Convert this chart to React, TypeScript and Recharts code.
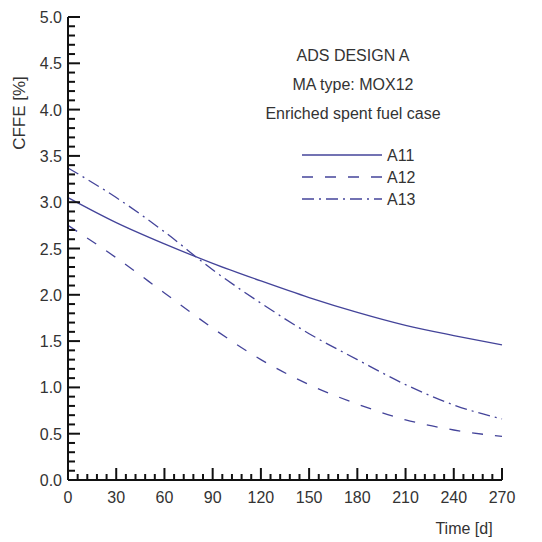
import { CartesianGrid, Customized, Line, LineChart, XAxis, YAxis } from 'recharts';

// time in days
const days = [0, 30, 60, 90, 120, 150, 180, 210, 240, 270];
const a11 = [3.05, 2.78, 2.55, 2.34, 2.15, 1.97, 1.81, 1.67, 1.56, 1.46];
const a12 = [2.75, 2.4, 2.02, 1.64, 1.3, 1.03, 0.82, 0.65, 0.54, 0.47];
const a13 = [3.37, 3.05, 2.68, 2.27, 1.91, 1.58, 1.3, 1.03, 0.81, 0.66];

const xMajor = [0, 30, 60, 90, 120, 150, 180, 210, 240, 270];
const yMajor = [0, 0.5, 1, 1.5, 2, 2.5, 3, 3.5, 4, 4.5, 5];

const notes = ['ADS DESIGN A', 'MA type: MOX12', 'Enriched spent fuel case'];
const legendItems = [
  { key: 'A11', dash: undefined },
  { key: 'A12', dash: '11 12' },
  { key: 'A13', dash: '12 5 2 5' },
];

const data = days.map((d, i) => ({ t: d, A11: a11[i], A12: a12[i], A13: a13[i] }));

// minor ticks: 5 steps between majors
const xTicks = xMajor.slice(0, -1).flatMap((v) => [0, 1, 2, 3, 4].map((k) => v + k * 6)).concat([270]);
const yTicks = yMajor.slice(0, -1).flatMap((v) => [0, 1, 2, 3, 4].map((k) => +(v + k * 0.1).toFixed(1))).concat([5]);

const LINE = '#44449a';
const TXT = '#333';
const FONT = '"Liberation Sans", Arial, sans-serif';

const isMajor = (v: number, step: number) => Math.abs(v / step - Math.round(v / step)) < 1e-6;

function XTick({ x, y, payload }: any) {
  const major = isMajor(payload.value, 30);
  return (
    <g>
      <line x1={x} x2={x} y1={y} y2={y - (major ? 12 : 6)} stroke="#111" strokeWidth={2} />
      {major && (
        <text x={x} y={y + 23} textAnchor="middle" fontSize={16} fill={TXT} fontFamily={FONT}>
          {payload.value}
        </text>
      )}
    </g>
  );
}

function YTick({ x, y, payload }: any) {
  const major = isMajor(payload.value, 0.5);
  return (
    <g>
      <line x1={x} x2={x + (major ? 12 : 7)} y1={y} y2={y} stroke="#111" strokeWidth={2} />
      {major && (
        <text x={x - 6} y={y + 6} textAnchor="end" fontSize={16} fill={TXT} fontFamily={FONT}>
          {payload.value.toFixed(1)}
        </text>
      )}
    </g>
  );
}

function Annotations() {
  return (
    <g fontFamily={FONT} fontSize={16} fill={TXT}>
      {notes.map((n, i) => (
        <text key={n} x={353} y={61 + i * 29} textAnchor="middle">
          {n}
        </text>
      ))}
      {legendItems.map((it, i) => (
        <g key={it.key}>
          <line x1={302} x2={382} y1={155 + i * 22} y2={155 + i * 22} stroke={LINE} strokeWidth={1.3} strokeDasharray={it.dash} />
          <text x={387} y={161 + i * 22}>{it.key}</text>
        </g>
      ))}
      <text x={0} y={0} transform="translate(25,113) rotate(-90)" textAnchor="middle" fontSize={17}>
        CFFE [%]
      </text>
      <text x={464} y={534} textAnchor="middle">
        Time [d]
      </text>
    </g>
  );
}

export default function App() {
  return (
    <div style={{ position: 'absolute', left: 0, top: 0, width: 542, height: 542, background: '#fff' }}>
      <LineChart width={542} height={542} data={data} margin={{ top: 17, right: 40, left: 0, bottom: 0 }}>
        <CartesianGrid stroke="none" />
        <XAxis
          dataKey="t"
          type="number"
          domain={[0, 270]}
          ticks={xTicks}
          interval={0}
          height={62}
          tickSize={0}
          tickMargin={0}
          tickLine={false}
          axisLine={{ stroke: '#111', strokeWidth: 2 }}
          tick={<XTick />}
        />
        <YAxis
          type="number"
          domain={[0, 5]}
          ticks={yTicks}
          interval={0}
          width={68}
          tickSize={0}
          tickMargin={0}
          tickLine={false}
          axisLine={{ stroke: '#111', strokeWidth: 2 }}
          tick={<YTick />}
        />
        <Line type="monotone" dataKey="A11" stroke={LINE} strokeWidth={1.3} dot={false} isAnimationActive={false} />
        <Line type="monotone" dataKey="A12" stroke={LINE} strokeWidth={1.3} strokeDasharray="11 12" dot={false} isAnimationActive={false} />
        <Line type="monotone" dataKey="A13" stroke={LINE} strokeWidth={1.3} strokeDasharray="12 5 2 5" dot={false} isAnimationActive={false} />
        <Customized component={Annotations} />
      </LineChart>
    </div>
  );
}
